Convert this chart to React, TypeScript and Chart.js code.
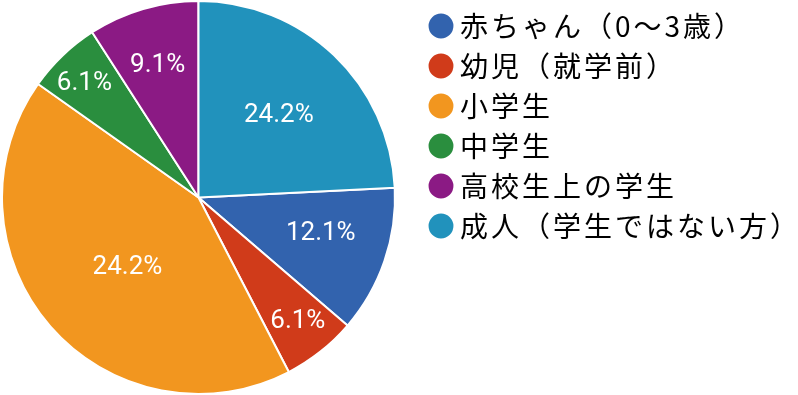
import React, { useEffect, useRef } from 'react';
import { Chart, registerables } from 'chart.js';

Chart.register(...registerables);

const CATEGORIES = [
  '赤ちゃん（0〜3歳）',
  '幼児（就学前）',
  '小学生',
  '中学生',
  '高校生上の学生',
  '成人（学生ではない方）',
];
// slice shares (percent)
const VALUES = [12.1, 6.1, 42.4, 6.1, 9.1, 24.2];
// label texts exactly as printed in the picture
const VALUE_LABELS = ['12.1%', '6.1%', '24.2%', '6.1%', '9.1%', '24.2%'];
const COLORS = ['#3263ae', '#d03b1a', '#f2961f', '#2a8e3e', '#8b1a84', '#2192bc'];
// label placement styling (fraction of radius, small angular nudge in degrees)
const LABEL_RADIUS = [0.647, 0.806, 0.503, 0.825, 0.708, 0.588];
const LABEL_ANGLE_SHIFT = [-3, -0.5, -3, -1, -0.7, 0.5];

export default function App() {
  const ref = useRef<HTMLCanvasElement>(null);

  useEffect(() => {
    document.body.style.margin = '0';
    if (!ref.current) return;
    const total = VALUES.reduce((a, b) => a + b, 0);
    const rotation = (360 * VALUES[VALUES.length - 1]) / total;

    const spacingPlugin = {
      id: 'legendSpacing',
      beforeLayout(chart: any) {
        chart.ctx.letterSpacing = '3px';
      },
      beforeDraw(chart: any) {
        chart.ctx.letterSpacing = '3px';
      },
    };

    const labelPlugin = {
      id: 'sliceLabels',
      afterDatasetsDraw(chart: any) {
        const ctx = chart.ctx;
        const meta = chart.getDatasetMeta(0);
        ctx.save();
        ctx.letterSpacing = '0px';
        ctx.font = '400 26px Roboto';
        ctx.fillStyle = '#ffffff';
        ctx.textAlign = 'center';
        ctx.textBaseline = 'middle';
        meta.data.forEach((arc: any, i: number) => {
          const p = arc.getProps(['x', 'y', 'startAngle', 'endAngle', 'outerRadius'], true);
          const mid = (p.startAngle + p.endAngle) / 2 + (LABEL_ANGLE_SHIFT[i] * Math.PI) / 180;
          const r = p.outerRadius * LABEL_RADIUS[i];
          ctx.fillText(VALUE_LABELS[i], p.x + Math.cos(mid) * r, p.y + Math.sin(mid) * r + 1);
        });
        ctx.restore();
      },
    };

    const chart = new Chart(ref.current, {
      type: 'pie',
      data: {
        labels: CATEGORIES,
        datasets: [
          {
            data: VALUES,
            backgroundColor: COLORS,
            borderColor: '#ffffff',
            borderWidth: 2,
          },
        ],
      },
      options: {
        animation: false,
        responsive: true,
        maintainAspectRatio: false,
        rotation,
        layout: { padding: 0 },
        plugins: {
          tooltip: { enabled: false },
          legend: {
            position: 'right',
            align: 'start',
            maxWidth: 374,
            labels: {
              usePointStyle: true,
              pointStyle: 'circle',
              boxWidth: 10,
              boxHeight: 19,
              padding: 12,
              color: '#000000',
              font: { family: "'Noto Sans CJK JP', 'Noto Sans', sans-serif", size: 28, weight: 'normal' },
            },
          },
        },
      },
      plugins: [spacingPlugin, labelPlugin],
    });
    return () => chart.destroy();
  }, []);

  return (
    <div style={{ position: 'fixed', left: -27, top: 0, width: 825, height: 395, background: '#fff' }}>
      <canvas ref={ref} />
    </div>
  );
}
